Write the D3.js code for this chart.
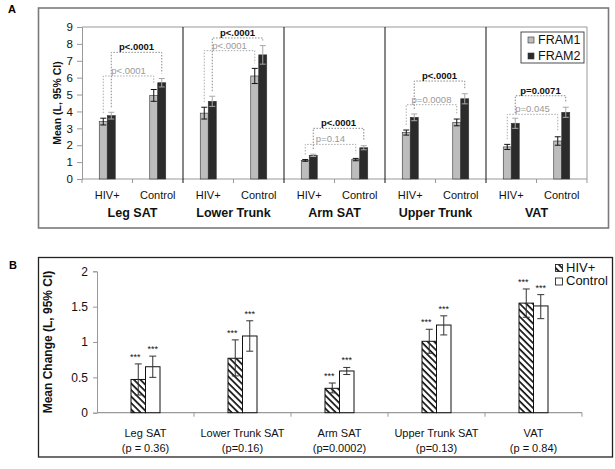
<!DOCTYPE html>
<html><head><meta charset="utf-8">
<script src="https://cdn.jsdelivr.net/npm/d3@7"></script>
<style>body{margin:0;background:#fff}svg{display:block;font-family:"Liberation Sans",Arial,sans-serif}</style>
</head><body><svg id="c" width="615" height="469"></svg>
<script>
// ---------- Panel A data ----------
const groupsA = ["Leg SAT","Lower Trunk","Arm SAT","Upper Trunk","VAT"];
const subsA = ["HIV+","Control"];
const seriesA = ["FRAM1","FRAM2"];
const fram1Mean = [[3.4,4.95],[3.9,6.1],[1.1,1.15],[2.75,3.35],[1.9,2.25]];
const fram1Err  = [[0.2,0.35],[0.35,0.45],[0.05,0.07],[0.15,0.2],[0.15,0.25]];
const fram2Mean = [[3.75,5.7],[4.6,7.35],[1.4,1.85],[3.65,4.75],[3.3,3.95]];
const fram2Err  = [[0.2,0.25],[0.3,0.55],[0.07,0.12],[0.2,0.3],[0.3,0.3]];
const pGray  = ["p<.0001","p<.0001","p=0.14","p=0.0008","p=0.045"];
const pBlack = ["p<.0001","p<.0001","p<.0001","p<.0001","p=0.0071"];
const grayLevel  = [6.1,7.6,2.05,4.4,3.83];
const blackLevel = [7.5,8.35,3.0,5.8,4.93];
const ticksA = [0,1,2,3,4,5,6,7,8,9];

// ---------- Panel B data ----------
const groupsB = ["Leg SAT","Lower Trunk SAT","Arm SAT","Upper Trunk SAT","VAT"];
const pB = ["(p = 0.36)","(p=0.16)","(p=0.0002)","(p=0.13)","(p = 0.84)"];
const seriesB = ["HIV+","Control"];
const hivMean = [0.47,0.77,0.345,1.01,1.55];
const hivLo   = [0.25,0.52,0.28,0.84,1.35];
const hivHi   = [0.69,1.03,0.42,1.18,1.75];
const ctlMean = [0.65,1.085,0.59,1.24,1.51];
const ctlLo   = [0.5,0.87,0.54,1.1,1.33];
const ctlHi   = [0.8,1.3,0.64,1.37,1.67];
const ticksB = [0,0.5,1,1.5,2];

const svg = d3.select("#c");
const defs = svg.append("defs");
const pat = defs.append("pattern").attr("id","hatch").attr("patternUnits","userSpaceOnUse")
  .attr("width",4.6).attr("height",4.6).attr("patternTransform","rotate(-45)");
pat.append("rect").attr("width",4.6).attr("height",4.6).attr("fill","#fff");
pat.append("line").attr("x1",1).attr("y1",0).attr("x2",1).attr("y2",4.6).attr("stroke","#111").attr("stroke-width",1.7);

// ================= PANEL A =================
svg.append("rect").attr("x",38.5).attr("y",8).attr("width",570).attr("height",220)
  .attr("fill","none").attr("stroke","#7a7a7a").attr("stroke-width",1.6);
svg.append("text").attr("x",8).attr("y",13).attr("font-weight","bold").attr("font-size",11).text("A");

const xA = d3.scaleBand().domain(groupsA).range([82,587]);
const subX = d3.scaleBand().domain(subsA).range([0,xA.bandwidth()]);
const serX = d3.scaleBand().domain(seriesA).range([-8,8]);
const yA = d3.scaleLinear().domain([0,9]).range([179,27]);

// frame top/right
svg.append("path").attr("d",`M82,${yA(9)}H587V${yA(0)}`).attr("fill","none").attr("stroke","#999").attr("stroke-width",1);

// y axis
const gyA = svg.append("g").attr("transform","translate(82,0)")
  .call(d3.axisLeft(yA).tickValues(ticksA).tickSize(5).tickPadding(4).tickFormat(d3.format("d")));
gyA.select(".domain").attr("stroke","#999");
gyA.selectAll(".tick line").attr("stroke","#999");
gyA.selectAll("text").attr("font-size",11.5).attr("fill","#111").attr("font-family","Liberation Sans, Arial");

// x axis baseline + ticks
const gxA = svg.append("g").attr("transform",`translate(0,${yA(0)})`);
gxA.append("line").attr("x1",82).attr("x2",587).attr("stroke","#999");
groupsA.forEach(g=>{
  const x0 = xA(g);
  gxA.append("line").attr("x1",x0+xA.bandwidth()/2).attr("x2",x0+xA.bandwidth()/2).attr("y1",0).attr("y2",4).attr("stroke","#999");
});
gxA.append("line").attr("x1",587).attr("x2",587).attr("y1",0).attr("y2",4).attr("stroke","#999");
gxA.append("line").attr("x1",82).attr("x2",82).attr("y1",0).attr("y2",4).attr("stroke","#999");
// separators
groupsA.slice(1).forEach(g=>{
  svg.append("line").attr("x1",xA(g)).attr("x2",xA(g)).attr("y1",yA(9)).attr("y2",yA(0)+4)
    .attr("stroke","#111").attr("stroke-width",1);
});

const fillA = {FRAM1:"#bdbdbd",FRAM2:"#2b2b2b"};
const errColA = {FRAM1:"#111",FRAM2:"#a8a8a8"};
const meansA = {FRAM1:fram1Mean,FRAM2:fram2Mean};
const errsA = {FRAM1:fram1Err,FRAM2:fram2Err};
const barA = svg.append("g");
groupsA.forEach((g,gi)=>{
  subsA.forEach((s,si)=>{
    const cx = xA(g)+subX(s)+subX.bandwidth()/2;
    seriesA.forEach(ser=>{
      const v = meansA[ser][gi][si], e = errsA[ser][gi][si];
      const bx = cx+serX(ser);
      barA.append("rect").attr("x",bx).attr("y",yA(v)).attr("width",serX.bandwidth()).attr("height",yA(0)-yA(v))
        .attr("fill",fillA[ser]).attr("stroke","#333").attr("stroke-width",0.6);
      const mx = bx+serX.bandwidth()/2;
      const ec = errColA[ser];
      barA.append("line").attr("x1",mx).attr("x2",mx).attr("y1",yA(v+e)).attr("y2",yA(v-e)).attr("stroke",ec);
      [v+e,v-e].forEach(t=>barA.append("line").attr("x1",mx-3).attr("x2",mx+3).attr("y1",yA(t)).attr("y2",yA(t)).attr("stroke",ec));
    });
  });
  // sub labels
  subsA.forEach(s=>{
    svg.append("text").attr("x",xA(g)+subX(s)+subX.bandwidth()/2).attr("y",199).attr("text-anchor","middle")
      .attr("font-size",11).attr("fill","#111").text(s);
  });
  svg.append("text").attr("x",xA(g)+xA.bandwidth()/2).attr("y",217).attr("text-anchor","middle")
    .attr("font-size",12.5).attr("font-weight","bold").attr("fill","#111").text(g);

  // brackets
  const mk = (ser, level, label, col, lineCol, bold)=>{
    const x1 = xA(g)+subX("HIV+")+subX.bandwidth()/2+serX(ser)+serX.bandwidth()/2;
    const x2 = xA(g)+subX("Control")+subX.bandwidth()/2+serX(ser)+serX.bandwidth()/2;
    const t1 = meansA[ser][gi][0]+errsA[ser][gi][0]+0.3;
    const t2 = meansA[ser][gi][1]+errsA[ser][gi][1]+0.3;
    svg.append("path").attr("d",`M${x1},${yA(t1)}V${yA(level)}H${x2}V${yA(Math.min(t2,level))}`)
      .attr("fill","none").attr("stroke",lineCol).attr("stroke-width",1).attr("stroke-dasharray","1.5,1.5");
    svg.append("text").attr("x",(x1+x2)/2).attr("y",yA(level)-2).attr("text-anchor","middle")
      .attr("font-size",9.5).attr("font-weight",bold?"bold":"normal").attr("fill",col).text(label);
  };
  mk("FRAM1", grayLevel[gi], pGray[gi], "#9a9a9a", "#aaa", false);
  mk("FRAM2", blackLevel[gi], pBlack[gi], "#111", "#888", true);
});

svg.append("text").attr("transform",`translate(61,${(yA(0)+yA(9))/2}) rotate(-90)`).attr("text-anchor","middle")
  .attr("font-size",10.5).attr("font-weight","bold").attr("fill","#111").text("Mean (L, 95% CI)");

// legend A
const lgA = svg.append("g");
lgA.append("rect").attr("x",521).attr("y",32).attr("width",63).attr("height",31).attr("fill","#fff").attr("stroke","#222").attr("stroke-width",0.8);
seriesA.forEach((s,i)=>{
  lgA.append("rect").attr("x",528).attr("y",37+i*16).attr("width",6).attr("height",6).attr("fill",fillA[s]).attr("stroke","#333").attr("stroke-width",0.6);
  lgA.append("text").attr("x",538).attr("y",43.5+i*16).attr("font-size",12.5).attr("fill","#111").text(s);
});

// ================= PANEL B =================
svg.append("rect").attr("x",38.5).attr("y",257.5).attr("width",574).attr("height",199.5)
  .attr("fill","none").attr("stroke","#222").attr("stroke-width",1.3);
svg.append("text").attr("x",9).attr("y",269).attr("font-weight","bold").attr("font-size",11).text("B");

const xB = d3.scaleBand().domain(groupsB).range([97,582]);
const serB = d3.scaleBand().domain(seriesB).range([-14.5,14.5]);
const yB = d3.scaleLinear().domain([0,2]).range([412.7,271.3]);

const gyB = svg.append("g").attr("transform","translate(97,0)")
  .call(d3.axisLeft(yB).tickValues(ticksB).tickSize(4).tickPadding(5).tickFormat(d=>String(d)));
gyB.select(".domain").attr("stroke","#999");
gyB.selectAll(".tick line").attr("stroke","#999");
gyB.selectAll("text").attr("font-size",12).attr("fill","#111").attr("font-family","Liberation Sans, Arial");

const gxB = svg.append("g").attr("transform",`translate(0,${yB(0)})`);
gxB.append("line").attr("x1",97).attr("x2",582).attr("stroke","#999").attr("stroke-width",1.2);
groupsB.forEach(g=>{
  gxB.append("line").attr("x1",xB(g)+xB.bandwidth()).attr("x2",xB(g)+xB.bandwidth()).attr("y1",0).attr("y2",4).attr("stroke","#999");
});

const meanB = {"HIV+":hivMean,"Control":ctlMean};
const loB = {"HIV+":hivLo,"Control":ctlLo};
const hiB = {"HIV+":hivHi,"Control":ctlHi};
const fillB = {"HIV+":"url(#hatch)","Control":"#fff"};
groupsB.forEach((g,gi)=>{
  const cx = xB(g)+xB.bandwidth()/2;
  seriesB.forEach(s=>{
    const v = meanB[s][gi];
    const bx = cx+serB(s);
    svg.append("rect").attr("x",bx).attr("y",yB(v)).attr("width",serB.bandwidth()).attr("height",yB(0)-yB(v))
      .attr("fill",fillB[s]).attr("stroke","#111").attr("stroke-width",1);
    const mx = bx+serB.bandwidth()/2;
    svg.append("line").attr("x1",mx).attr("x2",mx).attr("y1",yB(hiB[s][gi])).attr("y2",yB(loB[s][gi])).attr("stroke","#333");
    [hiB[s][gi],loB[s][gi]].forEach(t=>svg.append("line").attr("x1",mx-3.5).attr("x2",mx+3.5).attr("y1",yB(t)).attr("y2",yB(t)).attr("stroke","#333"));
    svg.append("text").attr("x",mx+(s==="HIV+"?-3:0)).attr("y",yB(hiB[s][gi])-4).attr("text-anchor","middle")
      .attr("font-size",9).attr("fill","#111").text("***");
  });
  svg.append("text").attr("x",cx).attr("y",437).attr("text-anchor","middle").attr("font-size",11).attr("fill","#111").text(g);
  svg.append("text").attr("x",cx).attr("y",452).attr("text-anchor","middle").attr("font-size",11).attr("fill","#111").text(pB[gi]);
});

svg.append("text").attr("transform",`translate(52,${(yB(0)+yB(2))/2}) rotate(-90)`).attr("text-anchor","middle")
  .attr("font-size",12).attr("font-weight","bold").attr("fill","#111").text("Mean Change (L, 95% CI)");

// legend B
seriesB.forEach((s,i)=>{
  svg.append("rect").attr("x",555.5).attr("y",264.5+i*13.5).attr("width",7).attr("height",7)
    .attr("fill",fillB[s]).attr("stroke","#111").attr("stroke-width",0.8);
  svg.append("text").attr("x",566).attr("y",271.5+i*13.5).attr("font-size",13).attr("fill","#111").text(s);
});
</script></body></html>
